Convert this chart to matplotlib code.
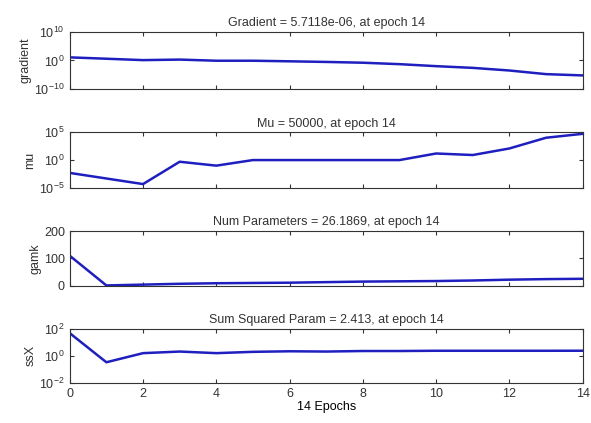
import numpy as np
import matplotlib.pyplot as plt

plt.rcParams['font.family'] = ['Liberation Sans', 'DejaVu Sans']
plt.rcParams['font.size'] = 9
plt.rcParams['mathtext.fontset'] = 'custom'
plt.rcParams['mathtext.rm'] = 'Liberation Sans'
plt.rcParams['mathtext.it'] = 'Liberation Sans'
plt.rcParams['mathtext.bf'] = 'Liberation Sans'

epochs = np.arange(0, 15)
gradient = [12.0, 4.0, 1.3, 2.0, 0.8, 0.8, 0.5, 0.3, 0.16, 0.05, 0.01, 2.5e-3, 3e-4, 1.6e-5, 5.7118e-06]
mu = [0.005, 5e-4, 5e-5, 0.5, 0.1, 1.0, 1.0, 1.0, 1.0, 1.0, 15.0, 8.0, 120.0, 1e4, 5e4]
gamk = [110, 2, 5, 8, 10, 11, 12, 14, 16, 17, 18, 20, 23, 25, 26.1869]
ssx = [48, 0.34, 1.6, 2.1, 1.6, 2.0, 2.2, 2.1, 2.3, 2.3, 2.4, 2.4, 2.4, 2.4, 2.413]

titles = ['Gradient = 5.7118e-06, at epoch 14',
          'Mu = 50000, at epoch 14',
          'Num Parameters = 26.1869, at epoch 14',
          'Sum Squared Param = 2.413, at epoch 14']
ylabels = ['gradient', 'mu', 'gamk', 'ssX']
series = [gradient, mu, gamk, ssx]
ylims = [(1e-10, 1e10), (1e-5, 1e5), (0, 200), (1e-2, 1e2)]
yticks = [[1e-10, 1, 1e10], [1e-5, 1, 1e5], [0, 100, 200], [1e-2, 1, 1e2]]
ytlabels = [[r'$10^{-10}$', r'$10^{0}$', r'$10^{10}$'],
            [r'$10^{-5}$', r'$10^{0}$', r'$10^{5}$'],
            ['0', '100', '200'],
            [r'$10^{-2}$', r'$10^{0}$', r'$10^{2}$']]
logs = [True, True, False, True]

fig = plt.figure(figsize=(5.91, 4.23), dpi=100)
bottoms = [0.7896, 0.5556, 0.3239, 0.0946]
heights = [0.135, 0.132, 0.130, 0.128]

for i in range(4):
    ax = fig.add_axes([0.118, bottoms[i], 0.868, heights[i]])
    ax.plot(epochs, series[i], color=(0.12, 0.12, 0.75), lw=1.8)
    if logs[i]:
        ax.set_yscale('log')
    ax.set_ylim(*ylims[i])
    ax.set_xlim(0, 14)
    ax.set_yticks(yticks[i])
    ax.set_yticklabels(ytlabels[i])
    ax.minorticks_off()
    ax.set_xticks(np.arange(0, 15, 2))
    if i < 3:
        ax.set_xticklabels([])
    else:
        ax.set_xlabel('14 Epochs', labelpad=1)
    ax.tick_params(direction='in', top=True, right=True, length=3, colors='#333333', labelcolor='#333333')
    for s in ax.spines.values():
        s.set_color('#333333')
    ax.set_title(titles[i], fontsize=9, color='#333333', pad=4)
    ax.set_ylabel(ylabels[i], color='#333333', labelpad=2)

fig.savefig('out.png', dpi=100)
